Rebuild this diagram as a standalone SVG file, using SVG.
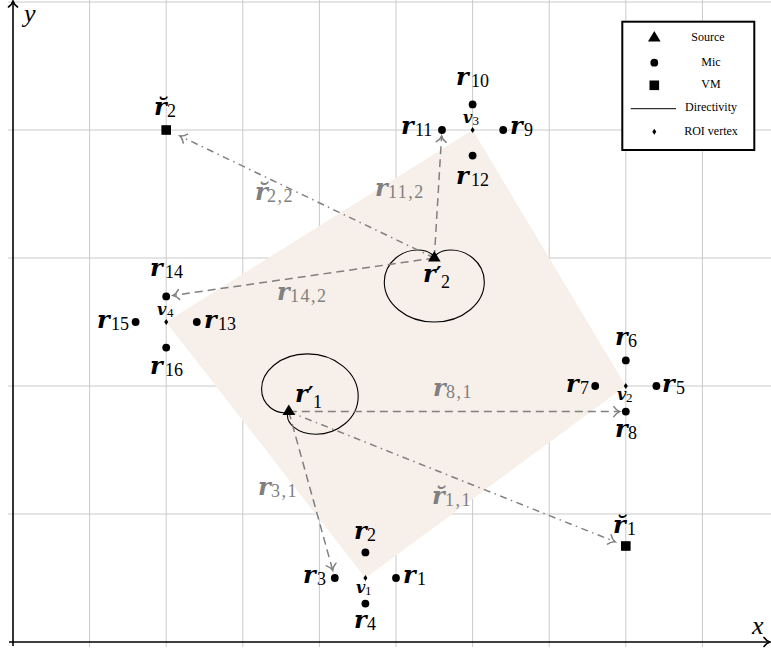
<svg xmlns="http://www.w3.org/2000/svg" xmlns:xlink="http://www.w3.org/1999/xlink" width="771" height="653" viewBox="0 0 771 653">
<defs>
<style>
.grid{stroke:#cacaca;stroke-width:1;fill:none}
.axis{stroke:#000;stroke-width:1.6;fill:none}
.roi{fill:#f7efe9;stroke:none}
.dir{fill:none;stroke:#000;stroke-width:1.1}
.dash{fill:none;stroke:#808080;stroke-width:1.5;stroke-dasharray:8 5}
.dd{fill:none;stroke:#808080;stroke-width:1.5;stroke-dasharray:7 4.5 1.5 4.5}
.m{font-family:"DejaVu Serif",serif;font-weight:bold;font-style:italic;font-size:24px}
.s{font-family:"Liberation Serif",serif;font-size:18px}
.mv{font-family:"DejaVu Serif",serif;font-weight:bold;font-style:italic;font-size:16px}
.sv{font-family:"Liberation Serif",serif;font-size:13px}
.pr{font-family:"DejaVu Serif",serif;font-weight:bold;font-style:normal;font-size:22px}
.g{fill:#808080}
.ax{font-family:"Liberation Serif",serif;font-style:italic;font-size:26px}
.leg{font-family:"Liberation Serif",serif;font-size:12px;text-anchor:middle}
</style>
<!-- open "to"-style arrowheads -->
<marker id="ag" markerUnits="userSpaceOnUse" markerWidth="14" markerHeight="14" viewBox="-7 -7 14 14" refX="0" refY="0" orient="auto" overflow="visible">
<path d="M-6,-5 C-3.8,-1.7 -1.3,-0.4 0,0 C-1.3,0.4 -3.8,1.7 -6,5" fill="none" stroke="#808080" stroke-width="1.5" stroke-linecap="round" stroke-dasharray="none"/>
</marker>
<marker id="ak" markerUnits="userSpaceOnUse" markerWidth="14" markerHeight="14" viewBox="-7 -7 14 14" refX="0" refY="0" orient="auto" overflow="visible">
<path d="M-6,-4.5 C-4,-1.6 -1.4,-0.4 0,0 C-1.4,0.4 -4,1.6 -6,4.5" fill="none" stroke="#000" stroke-width="1.6" stroke-linecap="round"/>
</marker>
<!-- unit cardioid r = 1 + cos(phi), main lobe along +x, cusp at origin -->
<path id="card" class="dir" vector-effect="non-scaling-stroke" d="M2,0 C2,.3491 1.8544,.6946 1.616,.933 C1.3776,1.1714 1.0523,1.299 .75,1.299 C.4477,1.299 .1745,1.1745 0,1 C-.1745,.8255 -.25,.6075 -.25,.433 C-.25,.2585 -.1799,.1309 -.116,.067 C-.0521,.0031 0,0 0,0 C0,0 -.0521,-.0031 -.116,-.067 C-.1799,-.1309 -.25,-.2585 -.25,-.433 C-.25,-.6075 -.1745,-.8255 0,-1 C.1745,-1.1745 .4477,-1.299 .75,-1.299 C1.0523,-1.299 1.3776,-1.1714 1.616,-.933 C1.8544,-.6946 2,-.3491 2,0 Z"/>
<path id="tri" d="M0,-7 L6.3,3.5 L-6.3,3.5 Z" fill="#000"/>
<rect id="sq" x="-4.8" y="-4.8" width="9.6" height="9.6" fill="#000"/>
<circle id="dot" r="3.9" fill="#000"/>
<path id="dia" d="M0,-3 L2,0 L0,3 L-2,0 Z" fill="#000"/>
</defs>

<!-- grid -->
<g id="grid" class="grid">
<path d="M89.6,0V647M166.2,0V647M242.8,0V647M319.4,0V647M396,0V647M472.6,0V647M549.2,0V647M625.8,0V647M702.4,0V647"/>
<path d="M8,2H771M8,130H771M8,258H771M8,386H771M8,514H771"/>
</g>

<!-- region of interest -->
<polygon id="roi" class="roi" points="365.4,578 625.8,386 472.6,130 166.2,322"/>

<!-- axes -->
<g id="axes">
<path class="axis" d="M13,646V1" marker-end="url(#ak)"/>
<path class="axis" d="M9,642H770" marker-end="url(#ak)"/>
<text class="ax" x="24" y="22">y</text>
<text class="ax" x="752" y="634">x</text>
</g>

<!-- directivity patterns -->
<g id="directivity">
<use xlink:href="#card" transform="translate(288.8,411.6) scale(38.5,32) rotate(-45)"/>
<use xlink:href="#card" transform="translate(434.3,258) scale(38.5,32) rotate(90)"/>
</g>

<!-- propagation paths -->
<g id="connectors">
<path class="dash" d="M434.3,258L441.6,136" marker-end="url(#ag)"/>
<path class="dash" d="M434.3,258L173.1,295.4" marker-end="url(#ag)"/>
<path class="dd" d="M434.3,258L180,136" marker-end="url(#ag)"/>
<path class="dash" d="M288.8,411.6L619.8,411.6" marker-end="url(#ag)"/>
<path class="dd" d="M288.8,411.6L614.9,541.7" marker-end="url(#ag)"/>
<path class="dash" d="M288.8,411.6L332.7,570.3" marker-end="url(#ag)"/>
<g class="g">
<text x="375" y="196"><tspan class="m">r</tspan><tspan class="s" x="388" y="198" letter-spacing="1.5">11,2</tspan></text>
<text x="255" y="200"><tspan class="m">r&#x306;</tspan><tspan class="s" x="267" y="202" letter-spacing="1.5">2,2</tspan></text>
<text x="277" y="300"><tspan class="m">r</tspan><tspan class="s" x="290" y="302" letter-spacing="1.5">14,2</tspan></text>
<text x="433" y="396"><tspan class="m">r</tspan><tspan class="s" x="446" y="398" letter-spacing="1.5">8,1</tspan></text>
<text x="258" y="495"><tspan class="m">r</tspan><tspan class="s" x="271" y="497" letter-spacing="1.5">3,1</tspan></text>
<text x="432" y="504"><tspan class="m">r&#x306;</tspan><tspan class="s" x="445" y="506" letter-spacing="1.5">1,1</tspan></text>
</g>
</g>

<!-- ROI vertices -->
<g id="v1"><use xlink:href="#dia" x="365.4" y="578"/><text x="356" y="593"><tspan class="mv">v</tspan><tspan class="sv" x="365" y="595">1</tspan></text></g>
<g id="v2"><use xlink:href="#dia" x="625.8" y="386"/><text x="617" y="400"><tspan class="mv">v</tspan><tspan class="sv" x="626" y="402">2</tspan></text></g>
<g id="v3"><use xlink:href="#dia" x="472.6" y="130"/><text x="463" y="123"><tspan class="mv">v</tspan><tspan class="sv" x="472.5" y="125">3</tspan></text></g>
<g id="v4"><use xlink:href="#dia" x="166.2" y="322"/><text x="157" y="315"><tspan class="mv">v</tspan><tspan class="sv" x="167" y="317">4</tspan></text></g>

<!-- microphones -->
<g id="mic1"><use xlink:href="#dot" x="396" y="578"/><text x="403" y="583"><tspan class="m">r</tspan><tspan class="s" x="417" y="585">1</tspan></text></g>
<g id="mic2"><use xlink:href="#dot" x="365.4" y="552.4"/><text x="354" y="539"><tspan class="m">r</tspan><tspan class="s" x="367" y="541">2</tspan></text></g>
<g id="mic3"><use xlink:href="#dot" x="334.8" y="578"/><text x="303" y="583"><tspan class="m">r</tspan><tspan class="s" x="317" y="585">3</tspan></text></g>
<g id="mic4"><use xlink:href="#dot" x="365.4" y="603.6"/><text x="354" y="628"><tspan class="m">r</tspan><tspan class="s" x="367" y="630">4</tspan></text></g>
<g id="mic5"><use xlink:href="#dot" x="656.4" y="386"/><text x="662" y="392"><tspan class="m">r</tspan><tspan class="s" x="676" y="394">5</tspan></text></g>
<g id="mic6"><use xlink:href="#dot" x="625.8" y="360.4"/><text x="615" y="345"><tspan class="m">r</tspan><tspan class="s" x="628" y="347">6</tspan></text></g>
<g id="mic7"><use xlink:href="#dot" x="595.2" y="386"/><text x="566" y="392"><tspan class="m">r</tspan><tspan class="s" x="580" y="394">7</tspan></text></g>
<g id="mic8"><use xlink:href="#dot" x="625.8" y="411.6"/><text x="615" y="437"><tspan class="m">r</tspan><tspan class="s" x="628" y="439">8</tspan></text></g>
<g id="mic9"><use xlink:href="#dot" x="503.2" y="130"/><text x="510" y="134"><tspan class="m">r</tspan><tspan class="s" x="524" y="136">9</tspan></text></g>
<g id="mic10"><use xlink:href="#dot" x="472.6" y="104.4"/><text x="456" y="85"><tspan class="m">r</tspan><tspan class="s" x="471" y="87">10</tspan></text></g>
<g id="mic11"><use xlink:href="#dot" x="442" y="130"/><text x="401" y="134"><tspan class="m">r</tspan><tspan class="s" x="415" y="136">11</tspan></text></g>
<g id="mic12"><use xlink:href="#dot" x="472.6" y="155.6"/><text x="456" y="184"><tspan class="m">r</tspan><tspan class="s" x="471" y="186">12</tspan></text></g>
<g id="mic13"><use xlink:href="#dot" x="196.8" y="322"/><text x="204" y="328"><tspan class="m">r</tspan><tspan class="s" x="218" y="330">13</tspan></text></g>
<g id="mic14"><use xlink:href="#dot" x="166.2" y="296.4"/><text x="150" y="276"><tspan class="m">r</tspan><tspan class="s" x="165" y="278">14</tspan></text></g>
<g id="mic15"><use xlink:href="#dot" x="135.6" y="322"/><text x="97" y="328"><tspan class="m">r</tspan><tspan class="s" x="111" y="330">15</tspan></text></g>
<g id="mic16"><use xlink:href="#dot" x="166.2" y="347.6"/><text x="150" y="374"><tspan class="m">r</tspan><tspan class="s" x="165" y="376">16</tspan></text></g>

<!-- virtual microphones -->
<g id="vm1"><use xlink:href="#sq" x="625.8" y="546"/><text x="613" y="533"><tspan class="m">r&#x306;</tspan><tspan class="s" x="627" y="535">1</tspan></text></g>
<g id="vm2"><use xlink:href="#sq" x="166.2" y="130"/><text x="154" y="115"><tspan class="m">r&#x306;</tspan><tspan class="s" x="167" y="117">2</tspan></text></g>

<!-- sources -->
<g id="src1"><use xlink:href="#tri" x="288.8" y="411.6"/><text x="295" y="402"><tspan class="m">r</tspan><tspan class="pr">′</tspan><tspan class="s" x="313" y="408">1</tspan></text></g>
<g id="src2"><use xlink:href="#tri" x="434.3" y="258"/><text x="423" y="282"><tspan class="m">r</tspan><tspan class="pr">′</tspan><tspan class="s" x="441" y="288">2</tspan></text></g>

<!-- legend -->
<g id="legend">
<rect x="622.3" y="21.7" width="132" height="128.3" fill="#fff" stroke="#000" stroke-width="2"/>
<use xlink:href="#tri" x="654.3" y="38"/>
<use xlink:href="#dot" x="654.3" y="62.7"/>
<use xlink:href="#sq" x="654.3" y="85.3"/>
<path d="M630.7,108.7H676" stroke="#000" stroke-width="1"/>
<use xlink:href="#dia" x="654.3" y="131.7"/>
<text class="leg" x="708" y="40.7">Source</text>
<text class="leg" x="711" y="65.7">Mic</text>
<text class="leg" x="711" y="88.3">VM</text>
<text class="leg" x="711" y="111">Directivity</text>
<text class="leg" x="711" y="135">ROI vertex</text>
</g>
</svg>
